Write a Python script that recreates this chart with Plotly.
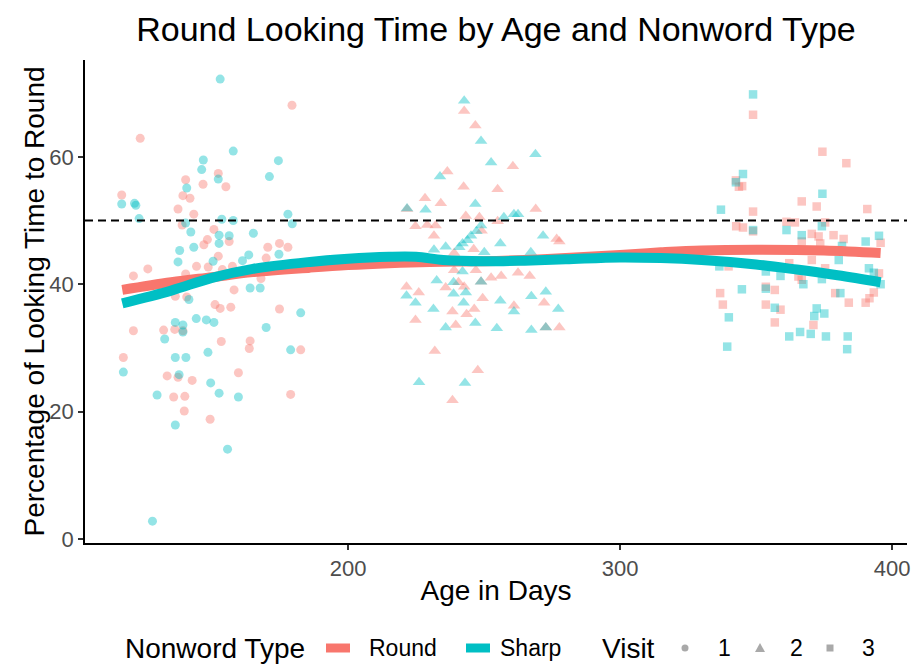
import plotly.graph_objects as go

ROUND_COLOR = "#F8766D"
SHARP_COLOR = "#00BFC4"

# ---------------- data ----------------
# Visit 1 (circles)
round_v1_age = [179.4, 123.6, 140.3, 152.3, 146.7, 155.1, 116.8, 139.3, 141.9, 137.5, 143.3, 139.0, 150.7, 148.3,
                147.0, 156.3, 152.3, 170.5, 174.8, 177.9, 169.9, 121.1, 126.4, 140.3, 144.3, 148.6, 157.5, 153.8,
                158.1, 168.0, 136.5, 151.1, 156.9, 174.8, 140.7, 153.0, 121.1, 132.2, 136.3, 139.3, 153.4, 164.0,
                163.7, 182.6, 117.4, 133.5, 137.5, 142.7, 159.7, 135.9, 140.0, 139.8, 149.3, 178.9]
round_v1_pct = [68.1, 62.9, 56.4, 57.4, 55.7, 55.3, 54.0, 53.9, 53.5, 51.8, 51.0, 49.3, 48.6, 47.0,
                46.2, 46.7, 44.4, 45.8, 46.4, 45.8, 44.1, 41.3, 42.4, 41.6, 42.8, 42.7, 42.8, 42.3,
                39.1, 40.9, 38.1, 36.8, 36.4, 36.1, 38.0, 36.2, 32.7, 32.8, 32.9, 32.7, 31.0, 31.1,
                29.9, 29.7, 28.5, 25.6, 25.4, 24.9, 26.1, 22.3, 22.4, 20.1, 18.8, 22.7]
sharp_v1_age = [153.0, 157.8, 146.8, 146.2, 152.3, 174.4, 171.1, 140.7, 116.8, 121.5, 122.0, 123.2, 140.3, 153.6,
                157.8, 177.9, 179.5, 142.2, 152.6, 156.3, 152.6, 165.2, 138.1, 143.3, 137.5, 150.4, 161.2, 163.5,
                174.6, 164.0, 167.7, 141.5, 182.6, 136.5, 139.3, 139.3, 144.2, 147.9, 150.7, 169.9, 132.6, 148.5,
                178.9, 136.5, 140.4, 117.4, 149.5, 152.6, 159.7, 129.8, 136.5, 155.7, 128.1, 137.9]
sharp_v1_pct = [72.2, 60.9, 59.5, 58.0, 56.5, 59.4, 56.9, 55.1, 52.6, 52.7, 52.4, 50.3, 49.6, 50.2,
                50.0, 51.0, 49.5, 48.2, 47.7, 47.6, 46.4, 48.0, 45.3, 45.8, 43.5, 43.6, 43.7, 44.6,
                44.7, 39.4, 39.4, 37.6, 35.5, 34.0, 33.6, 32.5, 34.6, 34.4, 34.0, 33.2, 31.4, 29.3,
                29.7, 28.5, 28.5, 26.2, 24.5, 22.9, 22.3, 22.6, 17.9, 14.1, 2.8, 25.8]

# Visit 2 (triangles)
round_v2_age = [242.7, 246.8, 236.5, 260.6, 242.5, 255.0, 228.3, 234.1, 221.7, 269.0, 243.3, 248.3, 255.0, 224.8,
                232.2, 229.1, 231.6, 249.1, 276.7, 246.2, 239.0, 239.0, 247.0, 252.6, 256.3, 262.5, 266.8, 240.6,
                242.7, 248.9, 235.9, 221.5, 226.0, 249.5, 238.4, 246.4, 243.6, 261.0, 272.1, 224.8, 239.6, 272.7,
                277.7, 231.9, 247.7, 238.4, 277.7]
round_v2_pct = [67.2, 64.9, 57.7, 58.5, 55.3, 54.9, 53.5, 52.7, 51.8, 51.8, 50.7, 50.5, 49.9, 49.1,
                49.2, 49.3, 47.6, 48.4, 47.1, 45.5, 44.9, 42.2, 42.2, 41.0, 41.3, 41.8, 41.3, 40.3,
                39.6, 40.4, 39.5, 39.6, 38.7, 37.8, 35.7, 36.1, 35.3, 36.6, 37.1, 34.4, 33.6, 33.2,
                33.2, 29.5, 26.5, 21.8, 46.7]
sharp_v2_age = [242.7, 248.9, 252.6, 268.9, 233.8, 221.7, 228.5, 246.8, 257.3, 261.0, 262.5, 248.9, 247.2, 245.2,
                243.9, 242.1, 240.9, 256.0, 271.7, 235.9, 231.6, 250.1, 267.2, 242.1, 248.9, 238.8, 232.6, 221.5,
                224.8, 238.8, 243.3, 242.5, 231.4, 256.0, 267.4, 272.7, 277.3, 261.0, 246.8, 235.9, 254.7, 267.4,
                272.7, 226.1, 243.0]
sharp_v2_pct = [68.8, 62.5, 59.1, 60.4, 56.9, 51.9, 51.7, 52.6, 50.5, 51.0, 51.0, 49.2, 48.3, 47.6,
                46.9, 46.4, 45.8, 46.4, 47.6, 45.9, 45.4, 45.0, 45.0, 42.0, 40.4, 40.3, 40.6, 38.2,
                37.1, 38.5, 38.7, 37.1, 36.1, 37.4, 38.1, 38.8, 36.1, 35.7, 33.9, 33.2, 33.1, 32.8,
                33.2, 24.6, 24.5]

# Visit 3 (squares)
round_v3_age = [348.9, 374.4, 383.2, 343.7, 344.9, 342.6, 348.9, 366.8, 372.3, 390.9, 361.2, 364.3, 375.4, 342.7,
                345.2, 348.9, 370.5, 373.0, 373.6, 378.5, 382.2, 366.8, 395.8, 339.9, 362.2, 370.5, 375.4, 365.6,
                366.8, 353.6, 356.9, 379.1, 336.8, 337.8, 353.6, 359.0, 384.1, 390.3, 391.7, 393.3, 395.2, 356.9,
                371.1]
round_v3_pct = [66.6, 60.8, 59.0, 55.3, 55.4, 56.3, 51.4, 53.0, 52.2, 51.8, 49.8, 49.7, 49.7, 49.1,
                48.9, 48.3, 47.9, 47.5, 46.4, 47.7, 47.1, 46.7, 46.5, 42.8, 43.3, 43.8, 42.5, 41.2,
                40.7, 39.6, 39.1, 38.6, 38.6, 36.8, 36.8, 36.0, 37.1, 37.1, 37.8, 38.7, 41.7, 34.0,
                33.6]
sharp_v3_age = [348.9, 345.2, 342.6, 337.1, 374.4, 348.9, 361.2, 374.2, 366.8, 390.3, 395.2, 381.6, 380.4, 353.6,
                359.0, 374.2, 391.5, 393.3, 395.8, 367.4, 344.8, 353.6, 356.9, 340.0, 372.3, 371.4, 375.1, 362.2,
                366.2, 370.1, 375.7, 383.7, 383.5, 339.4, 381.0, 336.5]
sharp_v3_pct = [69.8, 57.3, 56.0, 51.7, 54.2, 48.5, 48.5, 49.1, 47.7, 46.7, 47.6, 46.0, 43.8, 42.0,
                41.3, 40.8, 42.5, 41.8, 40.0, 40.0, 39.2, 39.3, 36.3, 34.8, 36.2, 35.0, 35.4, 31.8,
                32.5, 32.2, 31.8, 31.8, 29.8, 30.2, 38.6, 42.8]

# Smoothed (loess) curves
round_smooth_age = [117, 135, 150, 165, 186, 200, 215, 230, 250, 265, 280, 300, 315, 330, 350, 375, 395.8]
round_smooth_pct = [39.1, 40.3, 41.1, 41.9, 42.6, 43.0, 43.3, 43.5, 43.6, 43.8, 44.1, 44.6, 45.0, 45.3, 45.4, 45.3, 44.9]
sharp_smooth_age = [117, 135, 150, 165, 186, 200, 215, 225, 235, 250, 265, 280, 300, 315, 330, 350, 365, 380, 395.8]
sharp_smooth_pct = [37.0, 39.0, 41.0, 42.4, 43.5, 44.0, 44.3, 44.3, 43.8, 43.6, 43.7, 43.9, 44.2, 44.1, 43.8, 43.1, 42.3, 41.4, 40.3]

nonword_types = ["Round", "Sharp"]
visit_labels = ["1", "2", "3"]
x_ticks = [200, 300, 400]
y_ticks = [0, 20, 40, 60]
chance_level = 50

# ---------------- figure ----------------
FONT = "Liberation Sans, Arial, Helvetica, sans-serif"
symbols = ["circle", "triangle-up", "square"]
sizes = [9, 11, 8.5]
ALPHA = 0.42
KEY_GREY = "#A9A9A9"

# plot-area geometry (pixels)
L, R, T, B = 85, 13, 60, 124
PW, PH = 920 - L - R, 667 - T - B


def px(xpix):
    return (xpix - L) / PW


def py(ypix):
    return (667 - B - ypix) / PH


fig = go.Figure()
groups = [
    (round_v1_age, round_v1_pct, sharp_v1_age, sharp_v1_pct),
    (round_v2_age, round_v2_pct, sharp_v2_age, sharp_v2_pct),
    (round_v3_age, round_v3_pct, sharp_v3_age, sharp_v3_pct),
]
for i, (ra, rp, sa, sp) in enumerate(groups):
    for ages, pcts, col in ((ra, rp, ROUND_COLOR), (sa, sp, SHARP_COLOR)):
        fig.add_trace(go.Scatter(
            x=ages, y=pcts, mode="markers", showlegend=False, hoverinfo="skip",
            marker=dict(color=col, opacity=ALPHA, symbol=symbols[i], size=sizes[i], line=dict(width=0)),
        ))

fig.add_trace(go.Scatter(x=round_smooth_age, y=round_smooth_pct, mode="lines", name=nonword_types[0],
                         showlegend=False, line=dict(color=ROUND_COLOR, width=10, shape="spline")))
fig.add_trace(go.Scatter(x=sharp_smooth_age, y=sharp_smooth_pct, mode="lines", name=nonword_types[1],
                         showlegend=False, line=dict(color=SHARP_COLOR, width=10, shape="spline")))

fig.add_shape(type="line", xref="paper", x0=0, x1=1, yref="y", y0=chance_level, y1=chance_level,
              line=dict(color="black", width=2, dash="8px,5px"), layer="above")

# y-axis title placed as rotated text
fig.add_annotation(text="Percentage of Looking Time to Round", textangle=-90,
                   xref="paper", x=px(34), xanchor="center",
                   yref="paper", y=0.5, yanchor="middle", showarrow=False,
                   font=dict(size=28, color="black", family=FONT))

# ---------------- legend (drawn below the panel, ggplot style) ----------------
LEG_Y = 648


def leg_text(txt, xpix, size):
    fig.add_annotation(text=txt, xref="paper", yref="paper", x=px(xpix), y=py(LEG_Y),
                       xanchor="left", yanchor="middle", showarrow=False, borderpad=0,
                       font=dict(size=size, color="black", family=FONT))


leg_text("Nonword Type", 124, 28)
for name, col, kx, tx in ((nonword_types[0], ROUND_COLOR, 326, 368), (nonword_types[1], SHARP_COLOR, 466, 499)):
    fig.add_shape(type="rect", xref="paper", yref="paper", x0=px(kx), x1=px(kx + 24),
                  y0=py(LEG_Y + 4.5), y1=py(LEG_Y - 4.5), fillcolor=col, line=dict(width=0))
    leg_text(name, tx, 23)

leg_text("Visit", 601, 28)
# circle key
fig.add_shape(type="circle", xref="paper", yref="paper", x0=px(681.5), x1=px(688.5),
              y0=py(LEG_Y + 3.5), y1=py(LEG_Y - 3.5), fillcolor=KEY_GREY, line=dict(width=0))
leg_text(visit_labels[0], 717, 23)
# triangle key
tri = "M {:.5f} {:.5f} L {:.5f} {:.5f} L {:.5f} {:.5f} Z".format(
    px(755), py(LEG_Y + 4), px(765), py(LEG_Y + 4), px(760), py(LEG_Y - 5))
fig.add_shape(type="path", xref="paper", yref="paper", path=tri, fillcolor=KEY_GREY, line=dict(width=0))
leg_text(visit_labels[1], 789, 23)
# square key
fig.add_shape(type="rect", xref="paper", yref="paper", x0=px(826.5), x1=px(833.5),
              y0=py(LEG_Y + 3.5), y1=py(LEG_Y - 3.5), fillcolor=KEY_GREY, line=dict(width=0))
leg_text(visit_labels[2], 861, 23)

axis_common = dict(showline=True, linecolor="black", linewidth=1.5, ticks="outside", ticklen=5,
                   tickcolor="#333333", tickwidth=1.5, showgrid=False, zeroline=False,
                   tickfont=dict(size=22, color="#4D4D4D", family=FONT))

fig.update_layout(
    width=920, height=667,
    margin=dict(l=L, r=R, t=T, b=B, autoexpand=False),
    paper_bgcolor="white", plot_bgcolor="white",
    font=dict(family=FONT, color="black"),
    showlegend=False,
    title=dict(text="Round Looking Time by Age and Nonword Type", x=0.5, xref="paper", xanchor="center",
               y=1 - 29 / 667, yref="container", yanchor="middle", font=dict(size=34, color="black")),
    xaxis=dict(range=[103.3, 405.5], tickvals=x_ticks, ticklabelstandoff=0,
               title=dict(text="Age in Days", font=dict(size=28), standoff=0), **axis_common),
    yaxis=dict(range=[-0.63, 75.2], tickvals=y_ticks, ticklabelstandoff=0, **axis_common),
)

fig.write_html("out.html")
